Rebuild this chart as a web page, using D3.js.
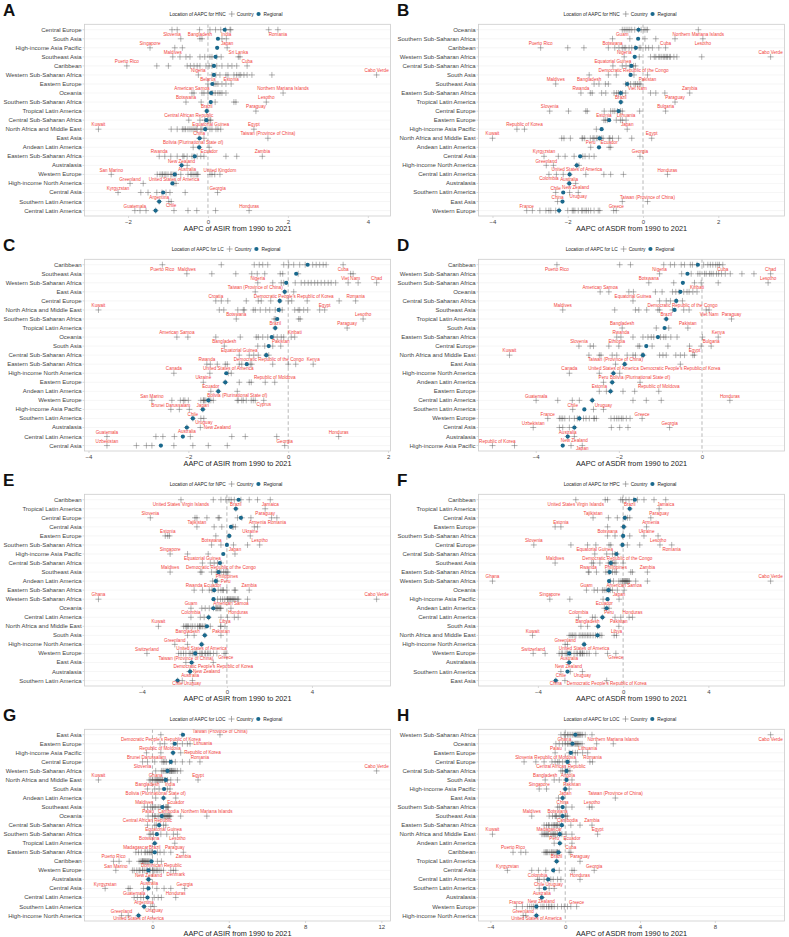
<!DOCTYPE html>
<html>
<head>
<meta charset="utf-8">
<script src="https://cdn.jsdelivr.net/npm/d3@7"></script>
<style>
  body { margin: 0; background: #fff; }
  svg text { font-family: "Liberation Sans", Arial, sans-serif; }
</style>
</head>
<body>
<svg id="chart" width="789" height="937"></svg>
<script>
// ---------- panel A : HNC, ASIR ----------
const A_regions = ["Central Europe","South Asia","High-income Asia Pacific","Southeast Asia","Caribbean","Western Sub-Saharan Africa","Eastern Europe","Oceania","Southern Sub-Saharan Africa","Tropical Latin America","Central Sub-Saharan Africa","North Africa and Middle East","East Asia","Andean Latin America","Eastern Sub-Saharan Africa","Australasia","Western Europe","High-income North America","Central Asia","Southern Latin America","Central Latin America"];
const A_regional = [0.42,0.25,0.23,0.19,0.15,0.15,0.11,0.08,0.07,-0.03,-0.04,-0.07,-0.21,-0.22,-0.33,-0.66,-0.83,-0.89,-1.12,-1.22,-1.31];
const A_countries = [
  [-0.77,-0.21,0.05,0.19,0.32,0.44,0.55,0.57,1.52],
  [-0.68,-0.15,0.35],
  [-0.83,-0.64],
  [-0.7,-0.45,-0.2,-0.08,0.1,0.22,0.33,0.8,-0.55,0.05],
  [-1.28,-0.99,-0.52,-0.44,-0.35,-0.27,-0.05,0.03,0.1,0.22,0.35,0.5,0.72,-0.2,0.6],
  [0.1,0.3,0.45,0.5,0.65,0.72,0.78,0.82,0.9,0.98,1.1,1.6,0.2],
  [0.2,0.25,0.35,0.45,0.15],
  [-0.35,-0.15,-0.1,0.0,0.08,0.18,0.25,0.35,0.45,0.3,0.12],
  [-0.17,0.18,0.65,0.7],
  [],
  [-0.2,-0.08,0.0,0.05],
  [-0.92,-0.77,-0.64,-0.56,-0.45,-0.35,-0.27,-0.18,-0.05,0.05,0.2,0.32,-0.6,0.1,-0.4,-0.3,-0.15,0.25,-0.5],
  [-0.1],
  [-0.22],
  [-1.08,-0.93,-0.77,-0.63,-0.52,-0.4,-0.27,-0.18,-0.1,0.45,0.72,-0.35,-0.6],
  [],
  [-1.27,-1.2,-1.13,-1.08,-1.0,-0.93,-0.85,-0.68,-0.43,-0.35,-0.3,-0.27,0.1,0.17,-1.15,-0.8,-0.5,-0.25,-0.9,-1.05,-0.4,0.05],
  [-1.62,-0.8],
  [-1.68,-1.5,-1.28,-1.05,-0.95,-0.57,-1.15],
  [-0.98],
  [-1.7,-1.55,-1.31,-0.85,-0.5,-0.28,0.19]
];
const A_labels = [["Slovenia",0,-0.9],["Romania",0,1.75],["Bangladesh",1,-0.2],["India",1,0.46],["Singapore",2,-1.45],["Japan",2,0.48],["Maldives",3,-0.88],["Sri Lanka",3,0.76],["Puerto Rico",4,-2.03],["Cuba",4,0.98],["Nigeria",5,-0.24],["Cabo Verde",5,4.22],["Belarus",6,0.0],["Estonia",6,0.58],["American Samoa",7,-0.4],["Northern Mariana Islands",7,1.88],["Botswana",8,-0.55],["Lesotho",8,1.46],["Brazil",9,-0.03],["Paraguay",9,1.2],["Central African Republic",10,-0.48],["Equatorial Guinea",10,0.07],["Kuwait",11,-2.74],["Egypt",11,1.15],["China",12,-0.22],["Taiwan (Province of China)",12,1.5],["Bolivia (Plurinational State of)",13,-0.37],["Ecuador",13,0.03],["Rwanda",14,-1.22],["Zambia",14,1.36],["New Zealand",15,-0.66],["Australia",15,-0.52],["San Marino",16,-2.42],["United Kingdom",16,0.3],["Greenland",17,-1.95],["United States of America",17,-0.85],["Kyrgyzstan",18,-2.25],["Georgia",18,0.24],["Argentina",19,-1.22],["Chile",19,-0.92],["Guatemala",20,-1.83],["Honduras",20,1.03]];
const A_ticks = [-2,0,2,4];

// ---------- panel B : HNC, ASDR ----------
const B_regions = ["Oceania","Southern Sub-Saharan Africa","Caribbean","Western Sub-Saharan Africa","Central Sub-Saharan Africa","South Asia","Southeast Asia","Eastern Sub-Saharan Africa","Tropical Latin America","Central Europe","Eastern Europe","High-income Asia Pacific","North Africa and Middle East","Andean Latin America","Central Asia","High-income North America","Central Latin America","Australasia","Southern Latin America","East Asia","Western Europe"];
const B_regional = [-0.12,-0.13,-0.19,-0.22,-0.31,-0.33,-0.42,-0.59,-0.59,-0.65,-0.9,-1.1,-1.15,-1.17,-1.67,-1.76,-1.95,-1.96,-2.12,-2.14,-2.23];
const B_countries = [
  [-0.5,-0.45,-0.4,-0.35,-0.3,-0.22,-0.12,-0.05,0.03,0.08,0.12],
  [-0.35,0.05,0.34,0.85],
  [-2.0,-1.57,-0.92,-0.75,-0.64,-0.55,-0.46,-0.37,-0.3,-0.21,-0.06,0.07,0.25,0.42,-0.1,0.15,-0.5],
  [-0.1,0.2,0.34,0.42,0.5,0.58,0.65,0.73,0.82,0.9,1.56,0.3,0.45,0.55,0.62,0.7],
  [-0.55,-0.45,-0.35,-0.2],
  [-0.92,-0.71,-0.24],
  [-1.3,-1.17,-0.92,-0.46,-0.33,-0.24,-0.06,-1.0,-0.2,-0.4,-0.1],
  [-1.4,-1.35,-1.1,-0.99,-0.77,-0.65,-0.46,0.2,0.34,0.58,-0.55,-0.7,-0.6],
  [],
  [-1.98,-1.52,-1.48,-1.03,-0.86,-0.68,-0.55,-0.09,-0.75,-0.6,-0.8],
  [-0.95,-0.71,-0.55,-1.0,-0.6],
  [-3.35,-1.24],
  [-2.16,-1.93,-1.62,-1.55,-1.33,-1.24,-1.15,-1.06,-0.88,-0.81,-0.65,-0.3,-2.1,-1.6,-1.3,-1.2,-0.9,-1.1,-1.4],
  [-0.86],
  [-2.25,-2.07,-1.83,-1.54,-1.43,-1.3,-1.6],
  [-2.38,-1.7],
  [-2.3,-2.12,-1.95,-1.52,-1.04,-0.86,-0.52],
  [],
  [-1.95],
  [-0.55],
  [-2.94,-2.74,-2.58,-2.45,-2.32,-2.23,-1.88,-1.81,-1.72,-1.63,-1.54,-1.45,-1.39,-1.19,-1.15,-0.78,-2.5,-1.85,-1.6,-1.5,-2.0,-1.3]
];
const B_labels = [["Guam",0,-0.55],["Northern Mariana Islands",0,1.47],["Botswana",1,-0.81],["Lesotho",1,1.59],["Puerto Rico",2,-2.72],["Cuba",2,0.6],["Nigeria",3,-0.5],["Cabo Verde",3,3.39],["Equatorial Guinea",4,-0.8],["Democratic Republic of the Congo",4,-0.25],["Bangladesh",5,-1.43],["Pakistan",5,0.12],["Maldives",6,-2.32],["Viet Nam",6,-0.15],["Rwanda",7,-1.65],["Zambia",7,1.24],["Brazil",8,-0.59],["Paraguay",8,0.85],["Slovenia",9,-2.48],["Bulgaria",9,0.6],["Estonia",10,-1.04],["Lithuania",10,-0.45],["Republic of Korea",11,-3.15],["Japan",11,-0.42],["Kuwait",12,-4.0],["Egypt",12,0.23],["Peru",13,-1.39],["Ecuador",13,-0.9],["Kyrgyzstan",14,-2.63],["Georgia",14,-0.08],["Greenland",15,-2.57],["United States of America",15,-1.76],["Colombia",16,-2.5],["Honduras",16,0.65],["Australia",17,-1.96],["New Zealand",17,-1.79],["Chile",18,-2.32],["Uruguay",18,-1.72],["China",19,-2.27],["Taiwan (Province of China)",19,0.12],["France",20,-3.09],["Greece",20,-0.71]];
const B_ticks = [-4,-2,0,2];

// ---------- panel C : LC, ASIR ----------
const C_regions = ["Caribbean","Southeast Asia","Western Sub-Saharan Africa","East Asia","Central Europe","North Africa and Middle East","Southern Sub-Saharan Africa","Tropical Latin America","Oceania","South Asia","Central Sub-Saharan Africa","Eastern Sub-Saharan Africa","High-income North America","Eastern Europe","Andean Latin America","Western Europe","High-income Asia Pacific","Southern Latin America","Australasia","Central Latin America","Central Asia"];
const C_regional = [0.39,0.16,-0.04,-0.07,-0.17,-0.19,-0.22,-0.26,-0.33,-0.39,-0.44,-0.83,-1.24,-1.26,-1.4,-1.6,-1.71,-1.91,-2.03,-2.11,-2.55];
const C_countries = [
  [-1.34,-0.68,-0.58,-0.51,-0.41,-0.09,0.01,0.11,0.23,0.34,0.49,0.56,0.63,0.7,0.76],
  [-1.53,-1.05,-0.73,-0.62,-0.47,-0.16,-0.11,0.2,1.3],
  [-0.31,-0.14,-0.09,0.14,0.26,0.33,0.4,0.46,0.53,0.59,0.66,0.73,0.8,0.86,1.2,1.4,0.95],
  [-0.07],
  [-1.34,-1.21,-0.84,-0.54,-0.35,-0.17,0.0,0.07,0.38,1.02,-0.6],
  [-1.38,-1.29,-1.01,-0.88,-0.66,-0.56,-0.37,-0.26,-0.17,-0.12,0.13,0.23,0.31,0.39,0.63,-0.7,-0.45,0.2,-0.9],
  [-0.25,0.21,-0.28,0.24],
  [],
  [-2.01,-1.45,-0.96,-0.64,-0.6,-0.51,-0.41,-0.29,-0.22,-0.14,-0.09,0.06],
  [-0.61,-0.47,-0.31],
  [-0.78,-0.69,-0.6,-0.44],
  [-1.56,-1.42,-1.26,-1.22,-0.98,-0.93,-0.76,-0.73,-0.31,0.0,0.15],
  [-1.57,-1.14],
  [-1.26,-0.98,-0.78,-0.74,-0.46],
  [-1.4],
  [-2.33,-2.16,-2.07,-2.0,-1.75,-1.69,-1.65,-1.55,-1.5,-1.02,-0.93,-0.84,-0.74,-0.66,-1.6,-2.1,-1.7,-0.9,-1.0,-1.58,-0.7,-1.68],
  [-2.18,-1.98],
  [-1.75],
  [],
  [-2.65,-2.51,-2.28,-1.96,-1.13,-0.86,-0.23],
  [-3.04,-2.84,-2.73,-2.29,-1.91,-1.6,-1.22]
];
const C_labels = [["Puerto Rico",0,-2.52],["Cuba",0,1.1],["Maldives",1,-2.03],["Viet Nam",1,1.25],["Nigeria",2,-0.61],["Chad",2,1.77],["Taiwan (Province of China)",3,-0.66],["Democratic People's Republic of Korea",3,0.11],["Croatia",4,-1.45],["Romania",4,1.35],["Kuwait",5,-3.8],["Egypt",5,0.73],["Botswana",6,-1.04],["Lesotho",6,1.5],["Brazil",7,-0.26],["Paraguay",7,1.18],["American Samoa",8,-2.23],["Kiribati",8,0.13],["Bangladesh",9,-1.28],["Pakistan",9,-0.15],["Equatorial Guinea",10,-0.98],["Democratic Republic of the Congo",10,-0.39],["Rwanda",11,-1.63],["Kenya",11,0.5],["Canada",12,-2.29],["United States of America",12,-1.2],["Ukraine",13,-1.7],["Republic of Moldova",13,-0.27],["Ecuador",14,-1.55],["Bolivia (Plurinational State of)",14,-1.02],["San Marino",15,-2.73],["Cyprus",15,-0.49],["Brunei Darussalam",16,-2.35],["Japan",16,-1.71],["Chile",17,-1.91],["Uruguay",17,-1.69],["Australia",18,-2.03],["New Zealand",18,-1.76],["Guatemala",19,-3.63],["Honduras",19,1.01],["Uzbekistan",20,-3.63],["Georgia",20,-0.07]];
const C_ticks = [-4,-2,0,2];

// ---------- panel D : LC, ASDR ----------
const D_regions = ["Caribbean","Western Sub-Saharan Africa","Southern Sub-Saharan Africa","Oceania","Central Sub-Saharan Africa","Southeast Asia","Tropical Latin America","South Asia","Eastern Sub-Saharan Africa","Central Europe","North Africa and Middle East","East Asia","High-income North America","Andean Latin America","Eastern Europe","Central Latin America","Southern Latin America","Western Europe","Central Asia","Australasia","High-income Asia Pacific"];
const D_regional = [-0.1,-0.35,-0.46,-0.52,-0.62,-0.66,-0.86,-0.9,-1.06,-1.34,-1.42,-1.86,-2.13,-2.16,-2.2,-2.64,-2.83,-2.95,-3.07,-3.23,-3.35];
const D_countries = [
  [-1.98,-1.72,-0.92,-0.76,-0.66,-0.42,-0.28,-0.23,-0.12,0.04,0.14,0.26,0.33,0.38,0.42,-0.5,0.2],
  [-0.49,-0.26,-0.1,0.06,0.18,0.27,0.35,0.47,0.56,0.68,0.96,1.25,0.1,0.4,0.22,-0.05],
  [-0.68,-0.18,-0.02,0.39],
  [-2.24,-1.76,-1.65,-1.12,-0.96,-0.71,-0.63,-0.55,-0.44,-0.36,-0.31,-0.22],
  [-1.02,-0.86,-0.76,-0.62],
  [-2.1,-1.6,-1.52,-1.33,-1.06,-1.02,-0.71,-0.44,-0.31,0.1],
  [],
  [-1.1,-0.8],
  [-1.66,-1.42,-1.22,-1.16,-0.92,-0.87,-0.6,0.01,-1.3,-1.0,-0.75],
  [-2.69,-2.61,-2.24,-2.0,-1.54,-1.5,-0.82,-0.3,-0.02,-1.2],
  [-2.72,-2.47,-2.43,-2.16,-2.05,-1.66,-1.6,-1.44,-1.41,-1.02,-0.94,-0.86,-0.63,-0.52,-0.42,-0.22,-1.8],
  [-1.86],
  [-2.47,-1.98],
  [-2.16],
  [-2.3,-2.2,-1.9,-1.62],
  [-3.47,-3.12,-2.95,-2.64,-1.66,-1.34,-0.98],
  [-2.61],
  [-3.43,-3.39,-3.35,-3.19,-3.07,-2.95,-2.79,-2.71,-2.59,-2.54,-2.19,-2.11,-2.05,-1.94,-1.9,-1.82,-1.73,-3.3,-2.85,-2.0,-3.0,-2.6],
  [-3.43,-3.35,-3.19,-3.07,-2.18,-1.98,-1.78],
  [],
  [-4.51,-3.15]
];
const D_labels = [["Puerto Rico",0,-3.49],["Cuba",0,0.5],["Nigeria",1,-1.02],["Chad",1,1.65],["Botswana",2,-1.28],["Lesotho",2,1.59],["American Samoa",3,-2.45],["Kiribati",3,-0.12],["Equatorial Guinea",4,-1.66],["Democratic Republic of the Congo",4,-0.47],["Maldives",5,-3.35],["Viet Nam",5,0.17],["Brazil",6,-0.86],["Paraguay",6,0.71],["Bangladesh",7,-1.92],["Pakistan",7,-0.34],["Rwanda",8,-1.95],["Ethiopia",8,-2.05],["Kenya",8,0.39],["Slovenia",9,-2.96],["Bulgaria",9,0.22],["Kuwait",10,-4.63],["Egypt",10,-0.18],["Taiwan (Province of China)",11,-2.08],["Democratic People's Republic of Korea",11,-0.52],["Canada",12,-3.19],["United States of America",12,-2.13],["Peru",13,-2.37],["Bolivia (Plurinational State of)",13,-1.49],["Estonia",14,-2.47],["Republic of Moldova",14,-1.04],["Guatemala",15,-3.99],["Honduras",15,0.67],["Chile",16,-3.11],["Uruguay",16,-2.37],["France",17,-3.71],["Greece",17,-1.44],["Uzbekistan",18,-4.06],["Georgia",18,-0.78],["Australia",19,-3.23],["New Zealand",19,-3.07],["Republic of Korea",20,-5.04],["Japan",20,-2.88]];
const D_ticks = [-4,-2,0];

// ---------- panel E : NPC, ASIR ----------
const E_regions = ["Caribbean","Tropical Latin America","Central Europe","Central Asia","Eastern Europe","Southern Sub-Saharan Africa","High-income Asia Pacific","Central Sub-Saharan Africa","Southeast Asia","Andean Latin America","Eastern Sub-Saharan Africa","Western Sub-Saharan Africa","Oceania","Central Latin America","North Africa and Middle East","South Asia","High-income North America","Western Europe","East Asia","Australasia","Southern Latin America"];
const E_regional = [0.55,0.42,0.66,0.19,0.11,0.0,-0.17,-0.33,-0.39,-0.52,-0.6,-0.63,-0.64,-0.86,-0.94,-1.04,-1.19,-1.49,-1.66,-1.73,-2.32];
const E_countries = [
  [-0.64,-0.28,-0.05,0.1,0.2,0.35,0.66,1.05,1.44],
  [],
  [-1.5,-1.41,-0.94,-0.41,-0.36,0.7,1.13,2.1,0.5],
  [-0.6,-0.24,0.25,1.29,0.3,0.4],
  [-2.9,-2.7,-0.52,0.1],
  [-0.28,0.31,0.97],
  [-1.85,-0.88],
  [-0.78,-0.6,-0.44],
  [-1.25,-1.18,-0.72,-0.44,-0.28,-0.16,-0.08,-0.5,-0.35,0.05],
  [-0.52],
  [-1.15,-0.83,-0.6,-0.41,-0.28,-0.16,0.35,0.4,-0.7,-0.2,0.0],
  [-0.44,-0.2,0.03,0.19,0.42,0.55,0.97,0.1,0.25,-0.1,0.3,0.15,0.05,0.5,-0.3,0.35],
  [-1.18,-1.02,-0.83,-0.63,-0.52,-0.41,-0.28,-0.45,-0.35,-0.3,-0.5],
  [-1.25,-1.07,-0.28,0.03,0.35,-0.86],
  [-2.04,-1.96,-1.85,-1.69,-1.61,-1.38,-1.29,-1.22,-1.07,-0.78,-0.28,-1.3,-1.25,-1.9,-1.5,-0.3,-1.15,-1.8,-1.0],
  [-1.54,-1.04],
  [-1.85],
  [-2.27,-2.16,-2.04,-1.93,-1.77,-1.62,-1.49,-1.41,-1.27,-1.15,-1.04,-0.91,-0.78,-0.63,-0.47,-0.13,-1.7,-1.55,-1.2,-1.0,-0.85,-1.45],
  [-1.66],
  [],
  [-2.1]
];
const E_labels = [["United States Virgin Islands",0,-2.16],["Jamaica",0,2.04],["Brazil",1,0.42],["Paraguay",1,1.8],["Slovenia",2,-3.6],["Romania",2,2.35],["Tajikistan",3,-1.41],["Armenia",3,1.44],["Estonia",4,-2.78],["Ukraine",4,1.1],["Botswana",5,-0.72],["Lesotho",5,1.54],["Singapore",6,-2.67],["Japan",6,0.38],["Equatorial Guinea",7,-1.15],["Democratic Republic of the Congo",7,-0.28],["Maldives",8,-2.67],["Philippines",8,0.0],["Ecuador",9,-0.67],["Peru",9,-0.45],["Rwanda",10,-1.54],["Zambia",10,1.05],["Ghana",11,-6.04],["Cabo Verde",11,7.04],["Guam",12,-1.69],["American Samoa",12,0.19],["Colombia",13,-1.69],["Honduras",13,0.53],["Kuwait",14,-3.22],["Libya",14,-0.09],["Bangladesh",15,-1.85],["Pakistan",15,-0.28],["Greenland",16,-2.45],["United States of America",16,-1.19],["Switzerland",17,-3.76],["Greece",17,-0.05],["Taiwan (Province of China)",18,-1.93],["Democratic People's Republic of Korea",18,-0.64],["Australia",19,-1.73],["New Zealand",19,-1.76],["Chile",20,-2.32],["Uruguay",20,-1.62]];
const E_ticks = [-4,0,4];

// ---------- panel F : HPC, ASDR ----------
const F_regions = ["Caribbean","Tropical Latin America","Central Asia","Eastern Europe","Southern Sub-Saharan Africa","Central Europe","Central Sub-Saharan Africa","Southeast Asia","Eastern Sub-Saharan Africa","Western Sub-Saharan Africa","Oceania","High-income Asia Pacific","Andean Latin America","Central Latin America","South Asia","North Africa and Middle East","High-income North America","Western Europe","Australasia","Southern Latin America","East Asia"];
const F_regional = [0.55,0.31,0.08,0.03,0.0,-0.03,-0.31,-0.58,-0.63,-0.66,-0.69,-0.73,-0.77,-0.97,-1.17,-1.2,-1.83,-2.53,-2.53,-2.61,-3.16];
const F_countries = [
  [-0.84,-0.73,-0.11,-0.03,0.13,0.28,0.67,0.98,1.45,0.5],
  [],
  [-0.69,-0.27,0.2,0.31,0.1],
  [-3.19,-0.73,0.0,0.05],
  [-0.38,-0.03,0.31,0.98],
  [-2.45,-1.67,-1.28,-0.66,-0.58,0.2,0.78,1.73,-0.05],
  [-0.77,-0.5,-0.38],
  [-1.47,-1.39,-1.09,-0.69,-0.5,-0.42,0.0,-0.6,-0.55],
  [-1.25,-0.81,-0.63,-0.38,-0.31,0.36,0.44,-0.5,-0.7,-1.6],
  [-0.45,-0.2,-0.03,0.11,0.2,0.59,1.14,0.05,0.15,0.0,-0.1,0.25,0.3,0.08,0.18,-0.6],
  [-1.36,-1.2,-0.97,-0.89,-0.66,-0.5,-0.27,-0.8,-0.6,-0.7],
  [-2.5,-0.94],
  [-0.77],
  [-1.44,-1.31,-0.38,-0.11,0.28,-0.97],
  [-1.98,-1.2],
  [-2.53,-2.38,-2.22,-2.06,-1.98,-1.83,-1.67,-1.52,-1.41,-1.2,-1.09,-0.42,-2.45,-1.9,-1.75,-1.3,-2.3,-1.6,-1.0],
  [-2.61],
  [-3.66,-3.0,-2.84,-2.72,-2.61,-2.53,-2.3,-2.14,-1.98,-1.91,-1.83,-1.59,-1.28,-0.73,-2.9,-2.45,-2.0,-2.2,-2.65,-1.9,-2.05,-1.7],
  [],
  [-2.48],
  [-2.73]
];
const F_labels = [["United States Virgin Islands",0,-2.22],["Jamaica",0,2.0],["Brazil",1,0.31],["Paraguay",1,1.69],["Tajikistan",2,-1.41],["Armenia",2,1.3],["Estonia",3,-2.92],["Ukraine",3,1.1],["Botswana",4,-0.73],["Lesotho",4,1.64],["Slovenia",5,-4.19],["Romania",5,2.28],["Equatorial Guinea",6,-1.33],["Democratic Republic of the Congo",6,-0.27],["Maldives",7,-3.19],["Philippines",7,-0.34],["Rwanda",8,-1.63],["Zambia",8,1.14],["Ghana",9,-6.13],["Cabo Verde",9,6.92],["Guam",10,-1.72],["American Samoa",10,0.05],["Singapore",11,-3.44],["Japan",11,-0.19],["Ecuador",12,-0.88],["Peru",12,-0.66],["Colombia",13,-2.09],["Honduras",13,0.44],["Bangladesh",14,-1.67],["Pakistan",14,-0.2],["Kuwait",15,-4.25],["Libya",15,-0.31],["Greenland",16,-2.72],["United States of America",16,-1.83],["Switzerland",17,-4.22],["Greece",17,-0.34],["Australia",18,-2.53],["New Zealand",18,-2.56],["Chile",19,-2.92],["Uruguay",19,-1.91],["China",20,-3.16],["Democratic People's Republic of Korea",20,-0.77]];
const F_ticks = [-4,0,4];

// ---------- panel G : LOC, ASIR ----------
const G_regions = ["East Asia","Eastern Europe","High-income Asia Pacific","Central Europe","Western Sub-Saharan Africa","North Africa and Middle East","South Asia","Andean Latin America","Southeast Asia","Oceania","Central Sub-Saharan Africa","Southern Sub-Saharan Africa","Tropical Latin America","Eastern Sub-Saharan Africa","Caribbean","Western Europe","Australasia","Central Asia","Central Latin America","Southern Latin America","High-income North America"];
const G_regional = [1.6,1.17,1.08,0.96,0.79,0.7,0.61,0.58,0.52,0.49,0.35,0.23,0.12,0.12,-0.05,-0.21,-0.21,-0.21,-0.26,-0.44,-0.73];
const G_countries = [
  [1.55],
  [0.64,1.09,1.31,1.57,1.83],
  [0.44,1.08],
  [-0.26,0.12,0.58,0.65,0.73,1.01,1.57,1.95,0.9,0.5,1.2],
  [0.47,0.61,0.75,0.87,0.99,1.1,1.22,1.31,1.48,0.8,0.95,1.05,0.7,1.15,0.9,1.0,0.55],
  [-0.17,-0.09,0.0,0.09,0.17,0.26,0.35,0.44,0.52,0.61,0.79,0.96,1.31,0.3,0.4,0.7,0.2,0.5,0.65],
  [0.12,0.35,0.78],
  [0.58],
  [-0.26,-0.09,0.09,0.17,0.4,0.58,0.7,0.79,0.75,0.0,0.3],
  [0.0,0.17,0.4,0.61,0.7,0.79,0.87,0.96,1.48,0.5,0.75,0.65,0.85,0.3,0.1,0.9,0.55],
  [0.12,0.7,0.35,0.2],
  [-0.09,0.05,0.44,0.75,1.1],
  [],
  [-0.73,-0.58,-0.35,-0.26,-0.17,-0.12,0.0,0.26,0.61,0.96,-0.4,-0.05,0.4],
  [-1.75,-1.22,-0.7,-0.61,-0.52,-0.47,-0.4,-0.35,-0.26,-0.17,-0.09,0.26,-0.3,-0.5,-0.2,-0.55,-0.4],
  [-1.05,-0.96,-0.82,-0.65,-0.52,-0.4,-0.26,-0.12,0.0,0.12,0.26,0.58,0.96,1.1,-0.3,-0.7,0.05,-0.15,0.2,0.45,-0.5,0.35],
  [],
  [-1.27,-1.17,-0.47,-0.26,0.23,0.61,0.96],
  [-0.79,-0.61,-0.47,-0.26,0.09,0.3,0.47],
  [-0.09],
  [-1.27]
];
const G_labels = [["Democratic People's Republic of Korea",0,0.44],["Taiwan (Province of China)",0,3.54],["Republic of Moldova",1,0.4],["Lithuania",1,1.97],["Brunei Darussalam",2,-0.31],["Republic of Korea",2,1.48],["Slovenia",3,-0.52],["Romania",3,2.49],["Ghana",4,0.17],["Cabo Verde",4,11.75],["Kuwait",5,-2.83],["Egypt",5,2.39],["Bangladesh",6,-0.26],["India",6,0.92],["Bolivia (Plurinational State of)",7,0.17],["Ecuador",7,1.22],["Maldives",8,-0.43],["Cambodia",8,0.84],["Palau",9,-0.23],["Northern Mariana Islands",9,2.85],["Central African Republic",10,-0.26],["Equatorial Guinea",10,0.58],["Botswana",11,-0.17],["Lesotho",11,1.31],["Brazil",12,0.12],["Paraguay",12,1.17],["Madagascar",13,-0.87],["Zambia",13,1.62],["Puerto Rico",14,-2.04],["Dominican Republic",14,0.47],["San Marino",15,-1.92],["Denmark",15,1.22],["New Zealand",16,-0.21],["Australia",16,-0.17],["Kyrgyzstan",17,-2.48],["Georgia",17,1.69],["Guatemala",18,-0.96],["Honduras",18,1.22],["Argentina",19,-0.44],["Uruguay",19,0.09],["Greenland",20,-1.62],["United States of America",20,-0.73]];
const G_ticks = [0,4,8,12];

// ---------- panel H : LOC, ASDR ----------
const H_regions = ["Western Sub-Saharan Africa","Oceania","Eastern Europe","Central Europe","Central Sub-Saharan Africa","South Asia","High-income Asia Pacific","East Asia","Southern Sub-Saharan Africa","Southeast Asia","Eastern Sub-Saharan Africa","North Africa and Middle East","Andean Latin America","Caribbean","Tropical Latin America","Central Asia","Central Latin America","Southern Latin America","Australasia","Western Europe","High-income North America"];
const H_regional = [0.54,0.39,0.3,0.12,0.07,0.07,0.0,-0.14,-0.14,-0.14,-0.18,-0.29,-0.29,-0.36,-0.46,-0.64,-0.91,-1.09,-1.25,-1.54,-1.54];
const H_countries = [
  [-0.23,0.12,0.3,0.48,0.66,0.75,0.93,1.07,1.43,0.55,0.6,0.7,0.8,0.4,0.2,0.85,0.0],
  [-0.32,-0.14,0.12,0.3,0.48,0.66,0.79,1.68,0.4,0.55,0.2,0.6,0.7,0.0,0.35,0.9],
  [0.21,0.54,0.66,0.93,0.4],
  [-1.57,-1.13,-0.71,-0.54,-0.32,-0.14,0.21,0.57,1.32,-0.4,0.1],
  [-0.14,0.0,0.25,0.1],
  [-0.59,-0.32,0.04],
  [-1.0,0.21],
  [-0.36],
  [-0.32,0.04,0.36,1.29],
  [-0.86,-0.68,-0.54,-0.46,-0.32,-0.23,-0.14,0.0,0.04,-0.5],
  [-1.13,-1.0,-0.71,-0.59,-0.5,-0.41,-0.32,0.3,0.79,-0.2,-0.6,-0.9,-0.45],
  [-1.25,-1.18,-1.07,-1.0,-0.89,-0.77,-0.64,-0.5,-0.41,-0.29,-0.18,0.36,-0.95,-0.7,-0.55,-1.1,-0.3,-0.6,0.05],
  [-0.29],
  [-2.37,-2.11,-1.13,-1.0,-0.86,-0.71,-0.59,-0.46,-0.41,-0.32,0.21,-0.95,-0.75,-0.5,-1.05,-0.65,-0.4],
  [],
  [-1.79,-1.43,-1.04,-0.59,-0.32,0.36,0.48],
  [-1.39,-1.13,-0.95,-0.77,-0.64,-0.41,-0.23],
  [-0.86],
  [],
  [-2.29,-2.02,-1.79,-1.61,-1.48,-1.3,-1.13,-1.0,-0.86,-0.71,-0.59,-0.41,-0.05,0.12,0.3,-1.9,-1.2,-0.9,-1.55,-0.2,-0.75,-1.7],
  [-2.11]
];
const H_labels = [["Ghana",0,-0.05],["Cabo Verde",0,10.98],["Palau",1,-0.5],["Northern Mariana Islands",1,2.57],["Republic of Moldova",2,-0.54],["Lithuania",2,1.2],["Slovenia",3,-2.2],["Romania",3,1.46],["Central African Republic",4,-0.23],["Angola",4,0.14],["Bangladesh",5,-1.07],["Pakistan",5,0.36],["Singapore",6,-1.39],["Japan",6,0.0],["China",7,-0.14],["Taiwan (Province of China)",7,2.68],["Botswana",8,-0.41],["Lesotho",8,1.43],["Maldives",9,-1.79],["Cambodia",9,0.12],["Madagascar",10,-0.86],["Zambia",10,1.43],["Kuwait",11,-3.89],["Egypt",11,1.73],["Peru",12,-0.59],["Ecuador",12,0.36],["Puerto Rico",13,-2.79],["Cuba",13,0.3],["Brazil",14,-0.46],["Paraguay",14,0.79],["Kyrgyzstan",15,-3.09],["Georgia",15,1.55],["Colombia",16,-1.48],["Honduras",16,0.79],["Chile",17,-1.39],["Uruguay",17,-0.59],["Australia",18,-1.25],["New Zealand",18,-1.28],["France",19,-2.61],["Greece",19,0.61],["Greenland",20,-2.25],["United States of America",20,-1.54]];
const H_ticks = [-4,0,4,8];

const panels = [
  {id:"A", cause:"HNC", measure:"ASIR", regions:A_regions, regional:A_regional, countries:A_countries, labels:A_labels, ticks:A_ticks},
  {id:"B", cause:"HNC", measure:"ASDR", regions:B_regions, regional:B_regional, countries:B_countries, labels:B_labels, ticks:B_ticks},
  {id:"C", cause:"LC", measure:"ASIR", regions:C_regions, regional:C_regional, countries:C_countries, labels:C_labels, ticks:C_ticks},
  {id:"D", cause:"LC", measure:"ASDR", regions:D_regions, regional:D_regional, countries:D_countries, labels:D_labels, ticks:D_ticks},
  {id:"E", cause:"NPC", measure:"ASIR", regions:E_regions, regional:E_regional, countries:E_countries, labels:E_labels, ticks:E_ticks},
  {id:"F", cause:"HPC", measure:"ASDR", regions:F_regions, regional:F_regional, countries:F_countries, labels:F_labels, ticks:F_ticks},
  {id:"G", cause:"LOC", measure:"ASIR", regions:G_regions, regional:G_regional, countries:G_countries, labels:G_labels, ticks:G_ticks},
  {id:"H", cause:"LOC", measure:"ASDR", regions:H_regions, regional:H_regional, countries:H_countries, labels:H_labels, ticks:H_ticks}
];

const svg = d3.select("#chart");
svg.append("rect").attr("width", 789).attr("height", 937).attr("fill", "#fff");

const crossPath = "M-3,0H3M0,-3V3";
const fmt = v => (v < 0 ? "\u2212" : "") + Math.abs(v);
const LAB_H = 4.2;

panels.forEach((p, i) => {
  const ox = (i % 2) * 394, oy = Math.floor(i / 2) * 235;
  const g = svg.append("g").attr("transform", `translate(${ox},${oy})`);

  // region labels first, to measure widest
  const yLab = g.append("g");
  yLab.selectAll("text").data(p.regions).enter().append("text")
    .attr("font-size", 6).attr("fill", "#454545").attr("text-anchor", "end")
    .attr("dominant-baseline", "central")
    .text(d => d);
  let maxw = 0;
  yLab.selectAll("text").each(function () { maxw = Math.max(maxw, this.getComputedTextLength()); });

  const left = 3 + maxw + 3.5, right = 390.5, top = 24.3, bottom = 216;

  const y = d3.scalePoint().domain(d3.range(p.regions.length)).range([top, bottom]).padding(0.6);

  const allVals = p.countries.flat().concat(p.labels.map(d => d[2]));
  const ext = d3.extent(allVals);
  const pad = (ext[1] - ext[0]) * 0.05;
  const x = d3.scaleLinear().domain([ext[0] - pad, ext[1] + pad]).range([left, right]);

  yLab.selectAll("text").attr("x", left - 3).attr("y", (d, k) => y(k));

  // grid lines
  g.append("g").selectAll("line").data(p.regions).enter().append("line")
    .attr("x1", left).attr("x2", right)
    .attr("y1", (d, k) => y(k)).attr("y2", (d, k) => y(k))
    .attr("stroke", "#ededed").attr("stroke-width", 0.5);

  // y ticks
  g.append("g").selectAll("line").data(p.regions).enter().append("line")
    .attr("x1", left - 2).attr("x2", left)
    .attr("y1", (d, k) => y(k)).attr("y2", (d, k) => y(k))
    .attr("stroke", "#b3b3b3").attr("stroke-width", 0.5);

  // x axis
  const xAxis = g.append("g").attr("transform", `translate(0,${bottom})`)
    .call(d3.axisBottom(x).tickValues(p.ticks).tickSize(2).tickPadding(1.5).tickFormat(fmt));
  xAxis.select(".domain").remove();
  xAxis.selectAll("line").attr("stroke", "#b3b3b3").attr("stroke-width", 0.5);
  xAxis.selectAll("text").attr("font-size", 6).attr("fill", "#454545")
    .attr("font-family", "Liberation Sans, Arial, sans-serif");

  // zero reference
  g.append("line")
    .attr("x1", x(0)).attr("x2", x(0)).attr("y1", top).attr("y2", bottom)
    .attr("stroke", "#a6a6a6").attr("stroke-width", 0.8).attr("stroke-dasharray", "3.5,2.5");

  // countries
  const pts = [];
  p.countries.forEach((row, k) => row.forEach(v => pts.push([k, v])));
  p.labels.forEach(d => pts.push([d[1], d[2]]));
  g.append("g").selectAll("path").data(pts).enter().append("path")
    .attr("d", crossPath)
    .attr("transform", d => `translate(${x(d[1])},${y(d[0])})`)
    .attr("stroke", "#4d4d4d").attr("stroke-opacity", 0.75).attr("stroke-width", 0.55).attr("fill", "none");

  // regional
  g.append("g").selectAll("circle").data(p.regional).enter().append("circle")
    .attr("cx", d => x(d)).attr("cy", (d, k) => y(k)).attr("r", 2.1)
    .attr("fill", "#19688c");

  // country labels, with a small greedy repel so they do not collide
  const lab = g.append("g").selectAll("text").data(p.labels).enter().append("text")
    .attr("font-size", 4.6).attr("fill", "#f2433c").attr("text-anchor", "middle")
    .attr("dominant-baseline", "central")
    .text(d => d[0]);
  const placed = [];
  const hits = (b) => placed.some(o => b.x0 < o.x1 && b.x1 > o.x0 && b.y0 < o.y1 && b.y1 > o.y0);
  lab.each(function (d) {
    const w = this.getComputedTextLength();
    const px = x(d[2]), py = y(d[1]);
    const step = y.step();
    const clampX = cx => Math.max(left + w / 2 + 0.5, Math.min(right - w / 2 - 0.5, cx));
    const clampY = cy => Math.max(top + 2.6, Math.min(bottom - 2.6, cy));
    const up = -0.48 * step, dn = 0.49 * step;
    const first = d[1] === 0 ? [dn, up] : [up, dn];
    const cands = [];
    first.forEach(dy => cands.push([px, py + dy]));
    cands.push([px + 3.5 + w / 2, py], [px - 3.5 - w / 2, py]);
    [0.35, 0.6, 0.9].forEach(f => first.forEach(dy => {
      cands.push([px + f * w, py + dy], [px - f * w, py + dy]);
    }));
    let best = null;
    for (const c of cands) {
      const cx = clampX(c[0]), cy = clampY(c[1]);
      const b = {x0: cx - w / 2, x1: cx + w / 2, y0: cy - LAB_H / 2, y1: cy + LAB_H / 2};
      if (!hits(b)) { best = b; break; }
    }
    if (!best) {
      const cx = clampX(cands[0][0]), cy = clampY(cands[0][1]);
      best = {x0: cx - w / 2, x1: cx + w / 2, y0: cy - LAB_H / 2, y1: cy + LAB_H / 2};
    }
    placed.push(best);
    d3.select(this).attr("x", (best.x0 + best.x1) / 2).attr("y", (best.y0 + best.y1) / 2);
  });

  // panel border
  g.append("rect").attr("x", left).attr("y", top)
    .attr("width", right - left).attr("height", bottom - top)
    .attr("fill", "none").attr("stroke", "#cccccc").attr("stroke-width", 0.8);

  // x title
  g.append("text").attr("x", (left + right) / 2).attr("y", 230.5)
    .attr("text-anchor", "middle").attr("font-size", 7.3).attr("fill", "#1a1a1a")
    .text(`AAPC of ${p.measure} from 1990 to 2021`);

  // legend
  const leg = g.append("g");
  const lt = leg.append("text").attr("x", 0).attr("y", 14).attr("font-size", 4.8)
    .attr("fill", "#1a1a1a").attr("dominant-baseline", "central")
    .text(`Location of AAPC for ${p.cause}`);
  const w0 = lt.node().getComputedTextLength();
  leg.append("path").attr("d", crossPath).attr("transform", `translate(${w0 + 6},14)`)
    .attr("stroke", "#6b6b6b").attr("stroke-width", 0.55);
  const t1 = leg.append("text").attr("x", w0 + 11).attr("y", 14).attr("font-size", 4.8)
    .attr("fill", "#1a1a1a").attr("dominant-baseline", "central").text("Country");
  const w1 = t1.node().getComputedTextLength();
  leg.append("circle").attr("cx", w0 + 11 + w1 + 5).attr("cy", 14).attr("r", 2.1).attr("fill", "#19688c");
  const t2 = leg.append("text").attr("x", w0 + 11 + w1 + 10).attr("y", 14).attr("font-size", 4.8)
    .attr("fill", "#1a1a1a").attr("dominant-baseline", "central").text("Regional");
  const total = w0 + 11 + w1 + 10 + t2.node().getComputedTextLength();
  leg.attr("transform", `translate(${226 - total / 2},0)`);

  // panel letter
  g.append("text").attr("x", 3).attr("y", 15.5).attr("font-size", 17).attr("font-weight", "bold")
    .attr("fill", "#111").text(p.id);
});
</script>
</body>
</html>
